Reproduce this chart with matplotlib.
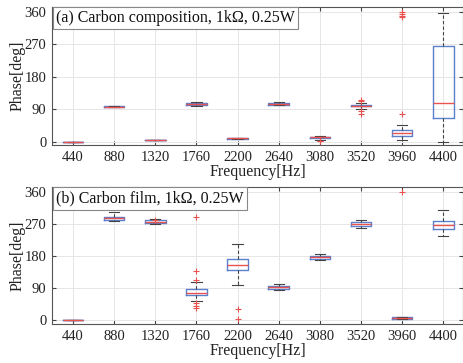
import matplotlib
matplotlib.use("Agg")
import matplotlib.pyplot as plt

plt.rcParams['font.family'] = ['Liberation Serif', 'DejaVu Serif']

freqs = ["440", "880", "1320", "1760", "2200", "2640", "3080", "3520", "3960", "4400"]

# Panel (a): Carbon composition
a_med = [0, 97, 5, 105, 9, 105, 12, 100, 25, 107]
a_q1 = [0, 96, 4, 102, 8, 103, 10, 98, 15, 65]
a_q3 = [0, 98, 6, 107, 10, 107, 14, 103, 33, 267]
a_lo = [0, 96, 4, 100, 8, 101, 6, 92, 4, 0]
a_hi = [0, 98, 6, 109, 10, 110, 17, 108, 45, 358]
a_fl = [[], [], [], [], [], [], [3, 2], [85, 78, 112, 115], [77, 345, 350, 355, 360], []]

# Panel (b): Carbon film
b_med = [0, 287, 277, 78, 157, 93, 177, 271, 7, 267]
b_q1 = [0, 282, 273, 71, 143, 88, 173, 265, 4, 256]
b_q3 = [0, 292, 281, 87, 173, 97, 181, 276, 10, 279]
b_lo = [0, 279, 270, 55, 99, 86, 170, 260, 3, 236]
b_hi = [0, 305, 285, 109, 215, 102, 187, 282, 11, 309]
b_fl = [[], [], [283], [290, 140, 113, 48, 41, 34], [33, 4], [], [], [], [360], []]

titles = ["(a) Carbon composition, 1k\u03a9, 0.25W", "(b) Carbon film, 1k\u03a9, 0.25W"]

fig = plt.figure(figsize=(4.63, 3.63), dpi=100)
ax1 = fig.add_axes([52/463, 1-145.3/363, 1-52/463, (145.3-6.6)/363])
ax2 = fig.add_axes([52/463, 1-324/363, 1-52/463, (324-187)/363])

blue = '#5b80cc'
red = '#e8524f'

for ax, med, q1, q3, lo, hi, fl, title in [
        (ax1, a_med, a_q1, a_q3, a_lo, a_hi, a_fl, titles[0]),
        (ax2, b_med, b_q1, b_q3, b_lo, b_hi, b_fl, titles[1])]:
    stats = []
    for i in range(len(freqs)):
        stats.append(dict(med=med[i], q1=q1[i], q3=q3[i], whislo=lo[i], whishi=hi[i],
                          fliers=fl[i], label=freqs[i]))
    ax.bxp(stats, positions=range(1, len(freqs)+1), widths=0.5,
           boxprops=dict(color=blue, linewidth=1.0),
           medianprops=dict(color=red, linewidth=1.0),
           whiskerprops=dict(color='#444444', linestyle=(0, (3, 2)), linewidth=0.8),
           capprops=dict(color='#444444', linewidth=0.8),
           capwidths=0.25,
           flierprops=dict(marker='+', markeredgecolor=red, markersize=4, markeredgewidth=0.8),
           zorder=3)
    ax.set_xlim(0.49, 10.48)
    ax.set_ylim(-10, 375)
    ax.set_yticks([0, 90, 180, 270, 360])
    ax.set_xticks(range(1, len(freqs)+1))
    ax.set_xticklabels(freqs)
    ax.grid(True, color='#e6e6e6', linewidth=0.7, zorder=0)
    ax.set_axisbelow(True)
    ax.tick_params(direction='in', length=3, top=True, right=True, labelsize=10.5,
                   color='#444444', labelcolor='#222222', pad=4)
    for s in ax.spines.values():
        s.set_color('#555555')
        s.set_linewidth(0.8)
    ax.set_xlabel("Frequency[Hz]", fontsize=11.5, color='#222222', labelpad=0)
    ax.set_ylabel("Phase[deg]", fontsize=11.5, color='#222222', labelpad=-1)
    ax.annotate(title, xy=(0, 1), xycoords='axes fraction',
                xytext=(3.0, -2.6), textcoords='offset points',
                ha='left', va='top', fontsize=11.5, color='#111111', zorder=5,
                bbox=dict(boxstyle='square,pad=0.2', facecolor='white', edgecolor='#888888',
                          linewidth=0.8))

fig.savefig("out.png", dpi=100)
